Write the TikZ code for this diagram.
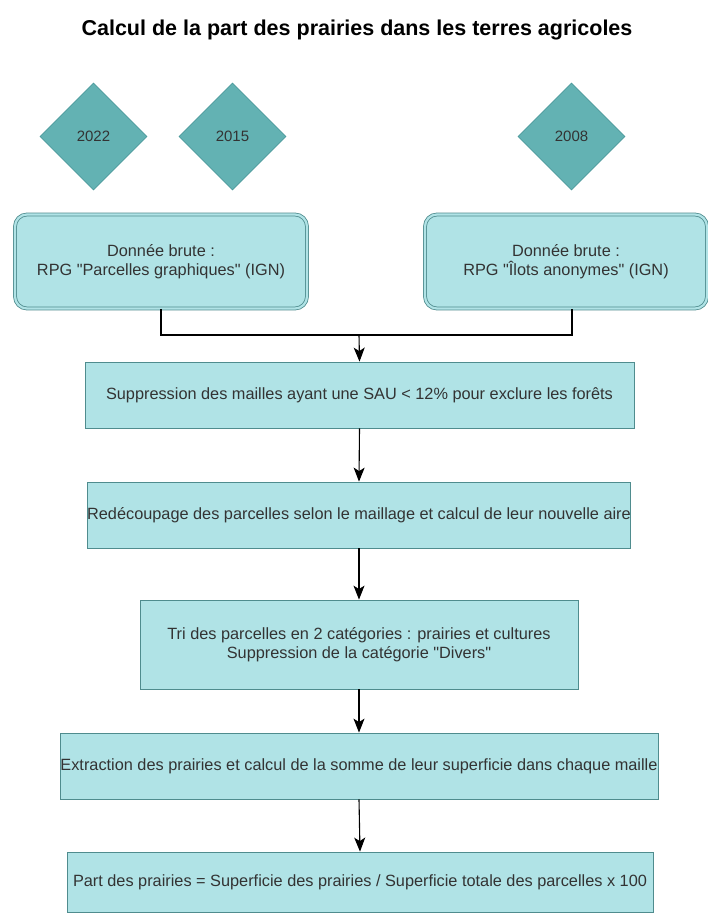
\documentclass[tikz,border=0pt]{standalone}
\usepackage{fontspec}
\setmainfont{Liberation Sans}[Ligatures=TeXOff]
\usetikzlibrary{shapes.geometric,arrows.meta}
\definecolor{boxfill}{HTML}{B0E3E6}
\definecolor{boxline}{HTML}{4F8C8E}
\definecolor{diafill}{HTML}{63B2B3}
\definecolor{dialine}{HTML}{4C9A9C}
\definecolor{txt}{HTML}{333333}
\begin{document}
\begin{tikzpicture}[x=1pt,y=-1pt,
  every node/.style={text=txt,font=\fontsize{16.3}{19}\selectfont},
  year/.style={diamond,aspect=1,draw=dialine,fill=diafill,line width=0.8pt,minimum size=107pt,inner sep=0pt,font=\fontsize{15}{18}\selectfont},
  srcbox/.style={rectangle,rounded corners=12pt,draw=boxline,double=boxfill,double distance=2.2pt,line width=0.8pt,fill=boxfill,align=center,inner sep=0pt},
  stepbox/.style={rectangle,draw=boxline,fill=boxfill,line width=0.8pt,align=center,inner sep=0pt},
  conn/.style={draw=black,line width=1.1pt},
  arr/.style={conn,-{Stealth[length=14pt,width=11pt,inset=3.5pt]}}]
\useasboundingbox (0,0) rectangle (707,913);
\node[font=\bfseries\fontsize{21.5}{26}\selectfont,text=black] (title) at (357,30) {Calcul de la part des prairies dans les terres agricoles};
\node[year] (y2022) at (93.5,136.5) {2022};
\node[year] (y2015) at (232.5,136.5) {2015};
\node[year] (y2008) at (571.5,136.5) {2008};
\node[srcbox,minimum width=292pt,minimum height=94pt] (srcA) at (161,261.5) {Donnée brute :\\RPG "Parcelles graphiques" (IGN)};
\node[srcbox,minimum width=282pt,minimum height=94pt] (srcB) at (566,261.5) {Donnée brute :\\RPG "Îlots anonymes" (IGN)};
\coordinate (join) at (359,335);
\node[stepbox,minimum width=549pt,minimum height=66pt] (b1) at (359.5,395) {Suppression des mailles ayant une SAU < 12\% pour exclure les forêts};
\node[stepbox,minimum width=542pt,minimum height=66pt] (b2) at (359,515) {Redécoupage des parcelles selon le maillage et calcul de leur nouvelle aire};
\node[stepbox,minimum width=438pt,minimum height=89pt] (b3) at (359,644.5) {Tri des parcelles en 2 catégories : prairies et cultures\\Suppression de la catégorie "Divers"};
\node[stepbox,minimum width=598pt,minimum height=66pt] (b4) at (359,766) {Extraction des prairies et calcul de la somme de leur superficie dans chaque maille};
\node[stepbox,minimum width=586pt,minimum height=60pt] (b5) at (360,882) {Part des prairies = Superficie des prairies / Superficie totale des parcelles x 100};
\draw[conn] (srcA.south) |- (join) -| ([xshift=6pt]srcB.south);
\draw[arr] (join) -- (b1.north);
\draw[arr] (b1.south) -- (b2.north);
\draw[arr] (b2.south) -- (b3.north);
\draw[arr] (b3.south) -- (b4.north);
\draw[arr] (b4.south) -- (b5.north);
\end{tikzpicture}
\end{document}
